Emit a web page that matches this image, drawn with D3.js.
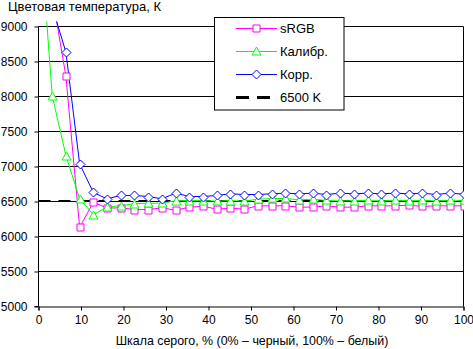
<!DOCTYPE html>
<html><head><meta charset="utf-8">
<script src="https://cdn.jsdelivr.net/npm/d3@7"></script>
<style>
html,body{margin:0;padding:0;background:#fff;}
svg{display:block;font-family:'Liberation Sans',Arial,sans-serif;}
</style></head>
<body><div id="chart"></div>
<script>
// grey-scale positions: 32 points, value = i * 100/31 percent
const pointIndex = d3.range(32);
const sRGB = [10500, 9450, 8290, 6130, 6490, 6405, 6410, 6385, 6385, 6410, 6375,
  6419, 6433, 6390, 6405, 6390, 6438, 6438, 6438, 6419, 6419,
  6438, 6419, 6419, 6438, 6438, 6438, 6448, 6429, 6438, 6438, 6438];
const calib = [10670, 8010, 7157, 6539, 6314, 6420, 6440, 6470, 6475, 6475, 6512,
  6514, 6514, 6505, 6514, 6505, 6533, 6543, 6543, 6524, 6533,
  6515, 6508, 6512, 6515, 6508, 6518, 6512, 6515, 6510, 6518, 6515];
const corr = [10200, 9280, 8633, 7038, 6629, 6538, 6586, 6586, 6571, 6538, 6619,
  6571, 6571, 6586, 6610, 6600, 6600, 6610, 6619, 6610, 6619,
  6600, 6619, 6610, 6619, 6610, 6619, 6610, 6619, 6600, 6619, 6605];
const refLevel = [6500, 6500];
const refX = [0, 100];
const xTicks = [0, 10, 20, 30, 40, 50, 60, 70, 80, 90, 100];
const yTicks = [5000, 5500, 6000, 6500, 7000, 7500, 8000, 8500, 9000];
const seriesNames = ["sRGB", "Калибр.", "Корр.", "6500 K"];
const yTitle = "Цветовая температура, К";
const xTitle = "Шкала серого, % (0% – черный, 100% – белый)";

const W = 473, H = 349;
const svg = d3.select("#chart").append("svg").attr("width", W).attr("height", H);
const x = d3.scaleLinear().domain([0, 100]).range([38.5, 463.5]);
const y = d3.scaleLinear().domain([5000, 9000]).range([306.5, 26.5]);
const xPct = i => i * 100 / 31;

// clip
svg.append("clipPath").attr("id", "clip").append("rect")
  .attr("x", 38).attr("y", 21.5).attr("width", 426).attr("height", 286);

// gridlines
svg.append("g").selectAll("line").data(yTicks.filter(v => v > 5000)).join("line")
  .attr("x1", 38.5).attr("x2", 463.5).attr("y1", d => y(d)).attr("y2", d => y(d))
  .attr("stroke", "#000").attr("stroke-width", 1);

// right border
svg.append("line").attr("x1", 463.5).attr("x2", 463.5).attr("y1", y(9000)).attr("y2", y(5000))
  .attr("stroke", "#000");

// axes
const yAxis = svg.append("g").attr("transform", "translate(38.5,0)")
  .call(d3.axisLeft(y).tickValues(yTicks).tickSize(4).tickPadding(7).tickFormat(d3.format("d")));
const xAxis = svg.append("g").attr("transform", "translate(0,306.5)")
  .call(d3.axisBottom(x).tickValues(xTicks).tickSize(4).tickPadding(5).tickFormat(d3.format("d")));
[yAxis, xAxis].forEach(a => {
  a.select(".domain").attr("stroke", "#000");
  a.selectAll(".tick line").attr("stroke", "#000");
  a.selectAll("text").attr("fill", "#000").style("font-size", "12px")
    .style("font-family", "'Liberation Sans',Arial,sans-serif");
});
yAxis.select(".domain").attr("d", "M-4," + y(5000) + "H0V" + y(9000));

const plot = svg.append("g").attr("clip-path", "url(#clip)");

// 6500 K reference dashed
plot.append("path")
  .attr("d", d3.line().x((d, i) => x(refX[i])).y(d => y(d) - 0.5)(refLevel))
  .attr("stroke", "#000").attr("stroke-width", 2).attr("stroke-dasharray", "12,8").attr("fill", "none");

const series = [
  {data: sRGB, color: "#ff00ff", marker: "square"},
  {data: calib, color: "#00ff00", marker: "triangle"},
  {data: corr, color: "#0000ff", marker: "diamond"}
];
function markerPath(type, cx, cy) {
  if (type === "square") return `M${cx-3.5},${cy-3.5}h7v7h-7Z`;
  if (type === "triangle") return `M${cx},${cy-4.5}L${cx+4.5},${cy+3.5}L${cx-4.5},${cy+3.5}Z`;
  return `M${cx},${cy-4.5}L${cx+4.5},${cy}L${cx},${cy+4.5}L${cx-4.5},${cy}Z`;
}
series.forEach(s => {
  plot.append("path")
    .attr("d", d3.line().x((d, i) => x(xPct(i))).y(d => y(d))(s.data))
    .attr("stroke", s.color).attr("stroke-width", 1).attr("fill", "none");
});
series.forEach(s => {
  plot.append("g").selectAll("path").data(s.data).join("path")
    .attr("d", (d, i) => markerPath(s.marker, Math.round(x(xPct(i))) + 0.5, Math.round(y(d)) + 0.5))
    .attr("fill", "#fff").attr("stroke", s.color).attr("stroke-width", 1);
});

// titles
svg.append("text").attr("x", 8).attr("y", 11).text(yTitle)
  .style("font-size", "13px").attr("fill", "#000");
svg.append("text").attr("x", 252).attr("y", 345).attr("text-anchor", "middle").text(xTitle)
  .style("font-size", "12.4px").attr("fill", "#000");

// legend
const lg = svg.append("g");
lg.append("rect").attr("x", 214.5).attr("y", 17.5).attr("width", 129.5).attr("height", 92.5)
  .attr("fill", "#fff").attr("stroke", "#000");
const legendItems = [
  {name: seriesNames[0], color: "#ff00ff", marker: "square"},
  {name: seriesNames[1], color: "#00ff00", marker: "triangle"},
  {name: seriesNames[2], color: "#0000ff", marker: "diamond"},
  {name: seriesNames[3], color: "#000", marker: null}
];
legendItems.forEach((it, k) => {
  const ly = 28.5 + k * 23;
  if (it.marker) {
    lg.append("line").attr("x1", 236).attr("x2", 277).attr("y1", ly).attr("y2", ly)
      .attr("stroke", it.color);
    lg.append("path").attr("d", markerPath(it.marker, 256.5, ly)).attr("fill", "#fff").attr("stroke", it.color);
  } else {
    lg.append("line").attr("x1", 236).attr("x2", 271).attr("y1", ly).attr("y2", ly)
      .attr("stroke", "#000").attr("stroke-width", 3).attr("stroke-dasharray", "13,8");
  }
  lg.append("text").attr("x", 280).attr("y", ly + 4.5).text(it.name)
    .style("font-size", "13px").attr("fill", "#000");
});
</script></body></html>
